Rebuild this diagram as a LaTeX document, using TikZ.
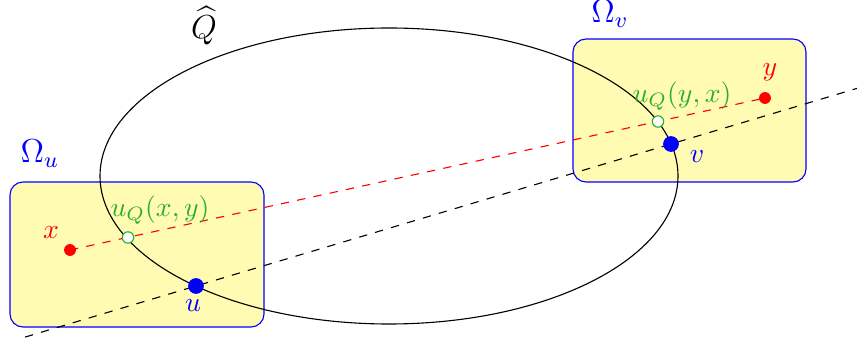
\documentclass[tikz,border=0pt]{standalone}
\usepackage{amsmath,amssymb}
\usetikzlibrary{calc}
\definecolor{qgreen}{RGB}{40,175,40}
\tikzset{
  reddot/.style={circle, fill=red, inner sep=0pt, minimum size=0.15cm},
  bluedot/.style={circle, fill=blue, inner sep=0pt, minimum size=0.2cm},
  qdot/.style={circle, draw=qgreen, fill=white, inner sep=0pt, minimum size=0.145cm},
  regionbox/.style={draw=blue, fill=yellow!30, rounded corners=4.7pt}
}
\begin{document}
\begin{tikzpicture}[x=0.0127cm, y=-0.0127cm]
\useasboundingbox (0,0) rectangle (857,340);

%domains
\draw[regionbox] (10,182) rectangle (264,327);
\draw[regionbox] (573,39) rectangle (806,182);
\node[blue, font=\large] (omu) at (40,154) {$\Omega_u$};
\node[blue, font=\large] (omv) at (610,14) {$\Omega_v$};

%ellipse
\draw (389,176) ellipse [x radius=289, y radius=148];
\node[font=\large, inner sep=0pt] (qhat) at (204,26) {$\widehat{Q}$};

%points
\coordinate (x) at (70,250);
\coordinate (y) at (765,98);
\coordinate (u) at (196,286);
\coordinate (v) at (671,144);
\coordinate (qxy) at (128,237.5);
\coordinate (qyx) at (658,121.5);

%lines
\draw[red, dashed] (x) -- (y);
\draw[dashed] ($(u)!-0.36!(v)$) -- ($(u)!1.4!(v)$);

\node[reddot] (xdot) at (x) {};
\node[reddot] (ydot) at (y) {};
\node[bluedot] (udot) at (u) {};
\node[bluedot] (vdot) at (v) {};
\node[qdot] (qxydot) at (qxy) {};
\node[qdot] (qyxdot) at (qyx) {};

%labels
\node[red] (xlab) at (51,233) {$x$};
\node[red] (ylab) at (770,72) {$y$};
\node[blue] (ulab) at (193,306) {$u$};
\node[blue] (vlab) at (697,157) {$v$};
\node[qgreen] (qxylab) at (160,210) {$u_Q(x,y)$};
\node[qgreen] (qyxlab) at (682,96) {$u_Q(y,x)$};
\end{tikzpicture}
\end{document}
